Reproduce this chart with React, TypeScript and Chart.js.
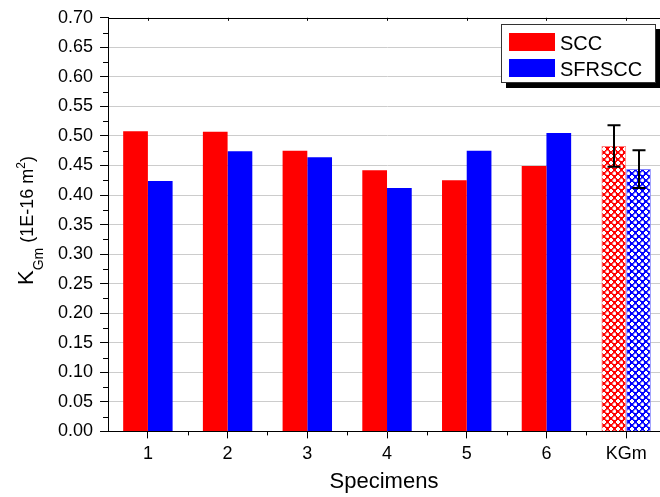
import React, { useEffect, useRef } from "react";
import { Chart, registerables } from "chart.js";

Chart.register(...registerables);

const categories = ["1", "2", "3", "4", "5", "6", "KGm"];
const sccValues = [0.508, 0.507, 0.475, 0.442, 0.425, 0.449, 0.483];
const sfrsccValues = [0.424, 0.474, 0.464, 0.412, 0.475, 0.505, 0.444];
const sccErrors = [null, null, null, null, null, null, 0.035];
const sfrsccErrors = [null, null, null, null, null, null, 0.032];
const seriesNames = ["SCC", "SFRSCC"];
const yMin = 0;
const yMax = 0.7;
const yStep = 0.05;

const RED = "rgb(255,0,0)";
const BLUE = "rgb(0,0,255)";
const FONT = "'Liberation Sans', Arial, sans-serif";

function makePattern(color: string): CanvasPattern | string {
  const tile = document.createElement("canvas");
  tile.width = 7;
  tile.height = 7;
  const t = tile.getContext("2d");
  if (!t) return color;
  t.fillStyle = color;
  t.fillRect(0, 0, 7, 7);
  t.fillStyle = "#ffffff";
  const cross = (cx: number, cy: number) => {
    t.fillRect(cx, cy - 1, 2, 4);
    t.fillRect(cx - 1, cy, 4, 2);
  };
  cross(1, 1);
  cross(4.5, 4.5);
  const p = t.createPattern(tile, "repeat");
  return p || color;
}

const decorPlugin = {
  id: "decor",
  afterDraw(chart: any) {
    const ctx = chart.ctx as CanvasRenderingContext2D;
    const { left, right, top, bottom } = chart.chartArea;
    const xs = chart.scales.x;
    const ys = chart.scales.y;
    ctx.save();
    ctx.strokeStyle = "#000";
    ctx.lineWidth = 1;
    // top frame
    ctx.beginPath();
    ctx.moveTo(left, Math.round(top) + 0.5);
    ctx.lineTo(right, Math.round(top) + 0.5);
    ctx.stroke();
    // minor y ticks
    for (let v = yMin + yStep / 2; v < yMax; v += yStep) {
      const py = Math.round(ys.getPixelForValue(v)) + 0.5;
      ctx.beginPath();
      ctx.moveTo(left - 5, py);
      ctx.lineTo(left, py);
      ctx.stroke();
    }
    // minor x ticks & top ticks
    for (let i = 0; i < categories.length; i++) {
      const c = xs.getPixelForValue(i);
      const n = i + 1 < categories.length ? xs.getPixelForValue(i + 1) : c + (c - xs.getPixelForValue(i - 1));
      const mid = Math.round((c + n) / 2) + 0.5;
      ctx.beginPath();
      ctx.moveTo(mid, bottom);
      ctx.lineTo(mid, bottom + 4);
      ctx.stroke();
      const cx = Math.round(c) + 0.5;
      ctx.beginPath();
      ctx.moveTo(cx, top);
      ctx.lineTo(cx, top + 3);
      ctx.stroke();
    }
    // error bars
    const errs = [sccErrors, sfrsccErrors];
    const vals = [sccValues, sfrsccValues];
    ctx.lineWidth = 2;
    for (let d = 0; d < 2; d++) {
      const meta = chart.getDatasetMeta(d);
      meta.data.forEach((bar: any, i: number) => {
        const e = errs[d][i];
        if (e == null) return;
        const x = Math.round(bar.x);
        const yt = ys.getPixelForValue(vals[d][i] + e);
        const yb = ys.getPixelForValue(vals[d][i] - e);
        ctx.beginPath();
        ctx.moveTo(x, yt);
        ctx.lineTo(x, yb);
        ctx.moveTo(x - 6.5, yt);
        ctx.lineTo(x + 6.5, yt);
        ctx.moveTo(x - 6.5, yb);
        ctx.lineTo(x + 6.5, yb);
        ctx.stroke();
      });
    }
    // legend
    ctx.lineWidth = 1;
    ctx.fillStyle = "#000";
    ctx.fillRect(506, 29, 155, 59);
    ctx.fillStyle = "#fff";
    ctx.fillRect(501, 24, 155, 59);
    ctx.strokeStyle = "#333";
    ctx.strokeRect(501.5, 24.5, 154, 58);
    ctx.fillStyle = RED;
    ctx.fillRect(509, 33, 46, 18);
    ctx.fillStyle = BLUE;
    ctx.fillRect(509, 59, 46, 18);
    ctx.fillStyle = "#000";
    ctx.font = `20px ${FONT}`;
    ctx.textAlign = "left";
    ctx.textBaseline = "alphabetic";
    ctx.fillText(seriesNames[0], 560, 49.5);
    ctx.fillText(seriesNames[1], 560, 75.5);
    // x title
    ctx.font = `22px ${FONT}`;
    ctx.textAlign = "center";
    ctx.fillText("Specimens", 384, 488);
    // y title
    ctx.save();
    ctx.translate(33, 285);
    ctx.rotate(-Math.PI / 2);
    ctx.textAlign = "left";
    let x = 0;
    ctx.font = `22px ${FONT}`;
    ctx.fillText("K", x, 0);
    x += ctx.measureText("K").width;
    ctx.font = `14px ${FONT}`;
    ctx.fillText("Gm", x, 10);
    x += ctx.measureText("Gm").width;
    ctx.font = `18px ${FONT}`;
    ctx.fillText(" (1E-16 m", x, 0);
    x += ctx.measureText(" (1E-16 m").width;
    ctx.font = `12px ${FONT}`;
    ctx.fillText("2", x, -8);
    x += ctx.measureText("2").width;
    ctx.font = `18px ${FONT}`;
    ctx.fillText(")", x, 0);
    ctx.restore();
    ctx.restore();
  },
};

export default function App() {
  const ref = useRef<HTMLCanvasElement | null>(null);
  useEffect(() => {
    document.body.style.margin = "0";
    document.body.style.overflow = "hidden";
    const canvas = ref.current;
    if (!canvas) return;
    const redPat = makePattern(RED);
    const bluePat = makePattern(BLUE);
    const n = categories.length;
    const chart = new Chart(canvas, {
      type: "bar",
      data: {
        labels: categories,
        datasets: [
          {
            label: seriesNames[0],
            data: sccValues,
            backgroundColor: categories.map((_, i) => (i === n - 1 ? redPat : RED)) as any,
            borderColor: categories.map((_, i) => (i === n - 1 ? "rgb(255,130,130)" : RED)),
            borderWidth: categories.map((_, i) => (i === n - 1 ? 1 : 0)),
            categoryPercentage: 0.62,
            barPercentage: 1,
          },
          {
            label: seriesNames[1],
            data: sfrsccValues,
            backgroundColor: categories.map((_, i) => (i === n - 1 ? bluePat : BLUE)) as any,
            borderColor: categories.map((_, i) => (i === n - 1 ? "rgb(130,130,255)" : BLUE)),
            borderWidth: categories.map((_, i) => (i === n - 1 ? 1 : 0)),
            categoryPercentage: 0.62,
            barPercentage: 1,
          },
        ],
      },
      options: {
        responsive: false,
        animation: false,
        layout: { padding: { left: 51, top: 17, right: 4, bottom: 27 } },
        plugins: { legend: { display: false }, tooltip: { enabled: false } },
        scales: {
          x: {
            offset: true,
            grid: {
              offset: false,
              drawOnChartArea: false,
              tickLength: 7,
              tickColor: "#000",
            },
            border: { color: "#000", width: 1 },
            ticks: {
              color: "#000",
              padding: 5,
              maxRotation: 0,
              font: { family: FONT, size: 18 },
            },
          },
          y: {
            min: yMin,
            max: yMax,
            grid: {
              color: (c: any) => (c.tick && c.tick.value > 0 && c.tick.value < yMax - 1e-6 ? "#cccccc" : "rgba(0,0,0,0)"),
              tickColor: "#000",
              tickLength: 8,
            },
            border: { color: "#000", width: 1 },
            ticks: {
              stepSize: yStep,
              color: "#000",
              padding: 7,
              autoSkip: false,
              font: { family: FONT, size: 18 },
              callback: (v: any) => Number(v).toFixed(2),
            },
          },
        },
      },
      plugins: [decorPlugin],
    });
    return () => chart.destroy();
  }, []);
  return (
    <div style={{ position: "fixed", left: 0, top: 0, width: 660, height: 497, overflow: "hidden", background: "#fff" }}>
      <canvas ref={ref} width={670} height={497} style={{ width: 670, height: 497, display: "block" }} />
    </div>
  );
}
